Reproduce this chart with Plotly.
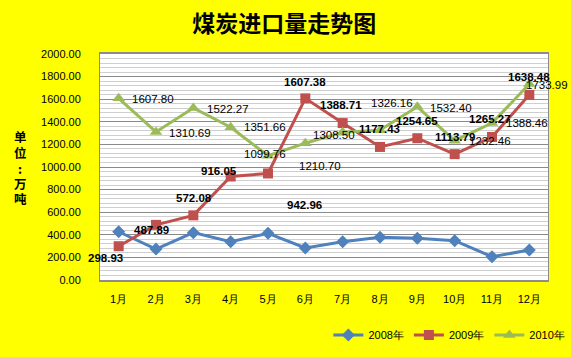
import plotly.graph_objects as go

months = ["1月", "2月", "3月", "4月", "5月", "6月", "7月", "8月", "9月", "10月", "11月", "12月"]
y2008 = [427, 274, 419, 339, 413, 283, 339, 378, 369, 348, 206, 265]
y2009 = [298.93, 487.89, 572.08, 916.05, 942.96, 1607.38, 1388.71, 1177.43, 1254.65, 1113.79, 1265.27, 1638.48]
y2010 = [1607.80, 1310.69, 1522.27, 1351.66, 1099.76, 1210.70, 1308.50, 1326.16, 1532.40, 1232.46, 1388.46, 1733.99]
y_ticks = [0, 200, 400, 600, 800, 1000, 1200, 1400, 1600, 1800, 2000]
y_title_chars = ["单", "位", ":", "万", "吨"]

# label pixel offsets (style)
off2009 = [(-13, -12), (-5, -5), (1, 17), (-12, 5), (36, -32), (0, 16), (-2, 18), (-1, 18), (0, 17), (0, 17), (-2, 18), (0, 18)]
off2010 = [(34, -1), (34, -1), (35, -1), (34, 0), (-3, 2), (15, -23), (-9, -3), (12, 27), (34, -1), (35, 0), (35, 0), (18, -1)]
title_char_px = [136, 152, 168, 183, 198]

C_BLUE = "#4F81BD"
C_RED = "#C0504D"
C_GREEN = "#9BBB59"
FONT = "Liberation Sans, Arial, sans-serif"
CJK = "Noto Sans CJK SC"

fig = go.Figure()
fig.add_trace(go.Scatter(x=months, y=y2008, name="2008年", mode="lines+markers",
                         line=dict(color=C_BLUE, width=3),
                         marker=dict(symbol="diamond", size=10, color=C_BLUE)))
fig.add_trace(go.Scatter(x=months, y=y2009, name="2009年", mode="lines+markers",
                         line=dict(color=C_RED, width=3),
                         marker=dict(symbol="square", size=10, color=C_RED)))
fig.add_trace(go.Scatter(x=months, y=y2010, name="2010年", mode="lines+markers",
                         line=dict(color=C_GREEN, width=3),
                         marker=dict(symbol="triangle-up", size=11, color=C_GREEN)))

annotations = []
for m, v, (dx, dy) in zip(months, y2009, off2009):
    annotations.append(dict(x=m, y=v, xref="x", yref="y", text="<b>%.2f</b>" % v,
                            showarrow=False, xshift=dx, yshift=dy,
                            font=dict(family=FONT, size=11.5, color="black")))
for m, v, (dx, dy) in zip(months, y2010, off2010):
    annotations.append(dict(x=m, y=v, xref="x", yref="y", text="%.2f" % v,
                            showarrow=False, xshift=dx, yshift=dy,
                            font=dict(family=FONT, size=11.5, color="black")))
for ch, py in zip(y_title_chars, title_char_px):
    annotations.append(dict(x=-80/448, y=(280 - py)/226, xref="paper", yref="paper",
                            xanchor="center", yanchor="middle", showarrow=False,
                            text="<b>%s</b>" % ch, height=14, valign="middle",
                            font=dict(family=CJK, size=12.5, color="black")))

fig.update_layout(
    width=571, height=357,
    margin=dict(l=100, r=23, t=54, b=77, autoexpand=False),
    paper_bgcolor="#FFFF00",
    plot_bgcolor="white",
    annotations=annotations,
    title=dict(text="<b>煤炭进口量走势图</b>", x=0.498, xanchor="center", y=1 - 24/357, yanchor="middle",
               font=dict(family=CJK, size=23, color="black")),
    showlegend=True,
    legend=dict(orientation="h", x=1.05, xanchor="right", y=-0.243, yanchor="middle",
                bgcolor="rgba(0,0,0,0)", font=dict(family=FONT, size=11, color="black"),
                itemwidth=30, tracegroupgap=0),
    font=dict(family=FONT, size=11, color="black"),
)
fig.update_xaxes(type="category", range=[-0.5, 11.5], showgrid=False,
                 showline=True, linecolor="#8c8c8c", linewidth=2, mirror=True,
                 ticks="", tickfont=dict(family=FONT, size=11, color="black"), ticklabelstandoff=8)
fig.update_yaxes(range=[0, 2000], tickvals=y_ticks, tickformat=".2f",
                 showgrid=True, gridcolor="#8a8a8a", gridwidth=1,
                 minor=dict(dtick=40, showgrid=True, gridcolor="#cfcfcf", gridwidth=1),
                 showline=True, linecolor="#8c8c8c", linewidth=1, mirror=True,
                 zeroline=False, ticks="", ticklabelstandoff=16,
                 tickfont=dict(family=FONT, size=11, color="black"))

fig.write_html("out.html", config={"displayModeBar": False},
               post_script="document.body.style.margin='0';document.body.style.overflow='hidden';")
